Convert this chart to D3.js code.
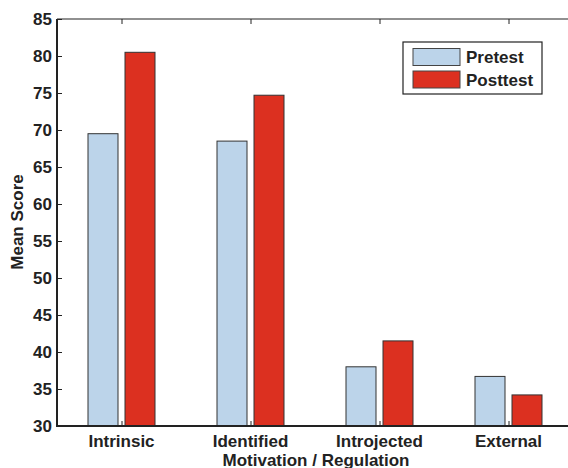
<!DOCTYPE html>
<html>
<head>
<meta charset="utf-8">
<script src="https://cdn.jsdelivr.net/npm/d3@7"></script>
<style>
  html, body { margin: 0; padding: 0; background: #fff; }
  svg { display: block; font-family: "Liberation Sans", Arial, Helvetica, sans-serif; }
</style>
</head>
<body>
<svg id="chart" width="568" height="468"></svg>
<script>
// Mean scores per motivation / regulation type
const categories = ["Intrinsic", "Identified", "Introjected", "External"];
const seriesNames = ["Pretest", "Posttest"];
const pretest = [69.5, 68.5, 38.0, 36.7];
const posttest = [80.5, 74.7, 41.5, 34.2];
const yTicks = [30, 35, 40, 45, 50, 55, 60, 65, 70, 75, 80, 85];
const colors = ["#bcd4ea", "#dc3020"];

(function draw() {
  const svg = d3.select("#chart");
  const plotL = 57, plotR = 573, plotT = 19, plotB = 426;
  const fontSize = 17;

  // categories sit at 1..4 on a [0.5, 4.5] axis
  const x = d3.scaleLinear().domain([0.5, 4.5]).range([plotL, plotR]);
  const y = d3.scaleLinear().domain([30, 85]).range([plotB, plotT]);

  const barW = 30, gap = 7;
  const offsets = [-(barW + gap) / 2, (barW + gap) / 2];
  const series = [pretest, posttest];

  // bars
  series.forEach((vals, si) => {
    svg.append("g").selectAll("rect")
      .data(vals)
      .join("rect")
      .attr("x", (d, i) => x(i + 1) + offsets[si] - barW / 2)
      .attr("y", d => y(d))
      .attr("width", barW)
      .attr("height", d => y(30) - y(d))
      .attr("fill", colors[si])
      .attr("stroke", "#333")
      .attr("stroke-width", 1);
  });

  const axisColor = "#222";

  // left axis with inward ticks
  const yAxis = d3.axisRight(y).tickValues(yTicks).tickSize(5).tickFormat("");
  svg.append("g").attr("transform", `translate(${plotL},0)`).call(yAxis)
    .call(g => g.select(".domain").remove())
    .call(g => g.selectAll("line").attr("stroke", axisColor));
  svg.selectAll(".ylab").data(yTicks).join("text")
    .attr("class", "ylab")
    .attr("x", plotL - 5)
    .attr("y", d => y(d))
    .attr("dy", "0.36em")
    .attr("text-anchor", "end")
    .attr("font-size", fontSize)
    .attr("font-weight", "bold")
    .attr("fill", "#222")
    .text(d => d);

  // bottom axis ticks (inward) and category labels
  const xAxisB = d3.axisTop(x).tickValues([1, 2, 3, 4]).tickSize(5).tickFormat("");
  svg.append("g").attr("transform", `translate(0,${plotB})`).call(xAxisB)
    .call(g => g.select(".domain").remove())
    .call(g => g.selectAll("line").attr("stroke", axisColor));
  svg.selectAll(".xlab").data(categories).join("text")
    .attr("class", "xlab")
    .attr("x", (d, i) => x(i + 1))
    .attr("y", 447)
    .attr("text-anchor", "middle")
    .attr("font-size", fontSize)
    .attr("font-weight", "bold")
    .attr("fill", "#222")
    .text(d => d);

  // top axis ticks (inward)
  const xAxisT = d3.axisBottom(x).tickValues([1, 2, 3, 4]).tickSize(5).tickFormat("");
  svg.append("g").attr("transform", `translate(0,${plotT})`).call(xAxisT)
    .call(g => g.select(".domain").remove())
    .call(g => g.selectAll("line").attr("stroke", axisColor));

  // frame lines
  svg.append("line").attr("x1", plotL).attr("x2", plotR).attr("y1", plotB).attr("y2", plotB)
    .attr("stroke", axisColor).attr("stroke-width", 2);
  svg.append("line").attr("x1", plotL).attr("x2", plotR).attr("y1", plotT).attr("y2", plotT)
    .attr("stroke", axisColor).attr("stroke-width", 1.2);
  svg.append("line").attr("x1", plotL).attr("x2", plotL).attr("y1", plotT).attr("y2", plotB + 1)
    .attr("stroke", axisColor).attr("stroke-width", 2);

  // axis titles
  svg.append("text")
    .attr("transform", `translate(23,222) rotate(-90)`)
    .attr("text-anchor", "middle")
    .attr("font-size", fontSize)
    .attr("font-weight", "bold")
    .attr("fill", "#222")
    .text("Mean Score");
  svg.append("text")
    .attr("x", 316)
    .attr("y", 465.5)
    .attr("text-anchor", "middle")
    .attr("font-size", fontSize)
    .attr("font-weight", "bold")
    .attr("fill", "#222")
    .text("Motivation / Regulation");

  // legend
  const lg = svg.append("g");
  lg.append("rect").attr("x", 403).attr("y", 42).attr("width", 139).attr("height", 52)
    .attr("fill", "#fff").attr("stroke", "#222").attr("stroke-width", 1.2);
  seriesNames.forEach((name, i) => {
    lg.append("rect").attr("x", 413).attr("y", 48.5 + i * 22.5).attr("width", 47).attr("height", 17)
      .attr("fill", colors[i]).attr("stroke", "#444").attr("stroke-width", 1);
    lg.append("text").attr("x", 466).attr("y", 57 + i * 22.5).attr("dy", "0.36em")
      .attr("font-size", fontSize).attr("font-weight", "bold").attr("fill", "#222").text(name);
  });
})();
</script>
</body>
</html>
